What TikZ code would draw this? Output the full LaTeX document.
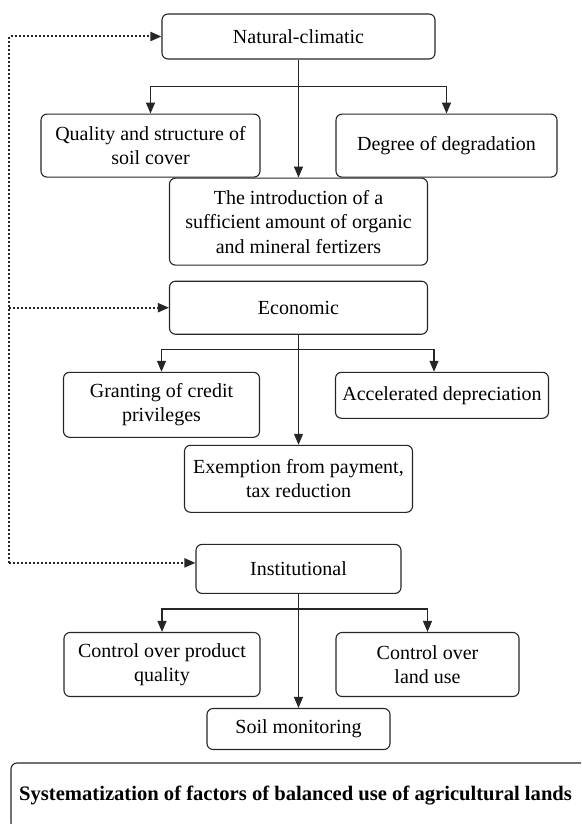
\documentclass[tikz,border=0pt]{standalone}
\usepackage{fontspec}
\setmainfont{Liberation Serif}
\usepackage{tikz}
\usetikzlibrary{arrows.meta, positioning, calc}

\begin{document}
\begin{tikzpicture}[
      x=1pt, y=1pt,
      box/.style={rectangle, draw=black!85, rounded corners=6pt, line width=1.1pt,
                  align=center, inner sep=2pt, font=\fontsize{20}{24.5}\selectfont},
      arrow/.style={-{Triangle[length=11pt,width=9pt]}, line width=1.2pt, black!85},
      link/.style={-{Triangle[length=11pt,width=9pt]}, line width=2pt, black!85,
                   dash pattern=on 2pt off 2pt}
    ]
    \useasboundingbox (0,0) rectangle (581,-824);

    % Natural-climatic group
    \node[box, minimum width=273pt, minimum height=45pt] (nat) at (298.5,-36.5) {Natural-climatic};
    \node[box, minimum width=219pt, minimum height=63pt, below=54pt of nat, xshift=-148pt] (qual) {Quality and structure of\\soil cover};
    \node[box, minimum width=221pt, minimum height=63pt, below=54pt of nat, xshift=148pt] (deg) {Degree of degradation};
    \node[box, minimum width=258pt, minimum height=87pt, below=118pt of nat] (intro) {The introduction of a\\sufficient amount of organic\\and mineral fertizers};

    % Economic group
    \node[box, minimum width=258pt, minimum height=53pt, below=15pt of intro] (econ) {Economic};
    \node[box, minimum width=196pt, minimum height=65pt, below=37pt of econ, xshift=-137pt] (grant) {Granting of credit\\privileges};
    \node[box, minimum width=213pt, minimum height=46pt, below=37pt of econ, xshift=143.5pt] (accel) {Accelerated depreciation};
    \node[box, minimum width=228pt, minimum height=67pt, below=110pt of econ] (exempt) {Exemption from payment,\\tax reduction};

    % Institutional group
    \node[box, minimum width=205pt, minimum height=49pt, below=31pt of exempt] (inst) {Institutional};
    \node[box, minimum width=196pt, minimum height=64pt, below=38pt of inst, xshift=-136.5pt] (ctrlq) {Control over product\\quality};
    \node[box, minimum width=183pt, minimum height=64pt, below=38pt of inst, xshift=129pt] (ctrll) {Control over\\land use};
    \node[box, minimum width=183pt, minimum height=41pt, below=114pt of inst] (soil) {Soil monitoring};

    % Caption, its frame runs off the right edge
    \node[font=\bfseries\fontsize{20.6}{24}\selectfont, inner sep=0pt, anchor=west] (sys) at (19,-796)
      {Systematization of factors of balanced use of agricultural lands};
    \begin{scope}
      \clip (0,0) rectangle (581,-824);
      \draw[draw=black!85, rounded corners=6pt, line width=1.1pt]
        ($(sys.west)+(-8,33)$) rectangle ($(sys.east)+(60,-33)$);
    \end{scope}

    % Branch points
    \coordinate[below=27pt of nat] (natj);
    \coordinate[below=15pt of econ] (econj);
    \coordinate[below=15pt of inst] (instj);
    \coordinate (spine) at (9,0);
    \coordinate (instin) at ([yshift=6pt]inst.west);

    % Tree arrows
    \draw[arrow] (nat) -- (intro);
    \draw[arrow] (natj) -| (qual);
    \draw[arrow] (natj) -| (deg);
    \draw[arrow] (econ) -- (exempt);
    \draw[arrow] (econj) -| (grant);
    \draw[arrow] (econj) -| ([xshift=-8pt]accel.north);
    \draw[arrow] (inst) -- (soil);
    \draw[arrow] (instj) -| (ctrlq);
    \draw[arrow] (instj) -| (ctrll);

    % Dotted feedback links
    \draw[link] (spine |- instin) -- (spine |- nat.west) -- (nat.west);
    \draw[link] (spine |- econ.west) -- (econ.west);
    \draw[link] (spine |- instin) -- (instin);
\end{tikzpicture}
\end{document}
